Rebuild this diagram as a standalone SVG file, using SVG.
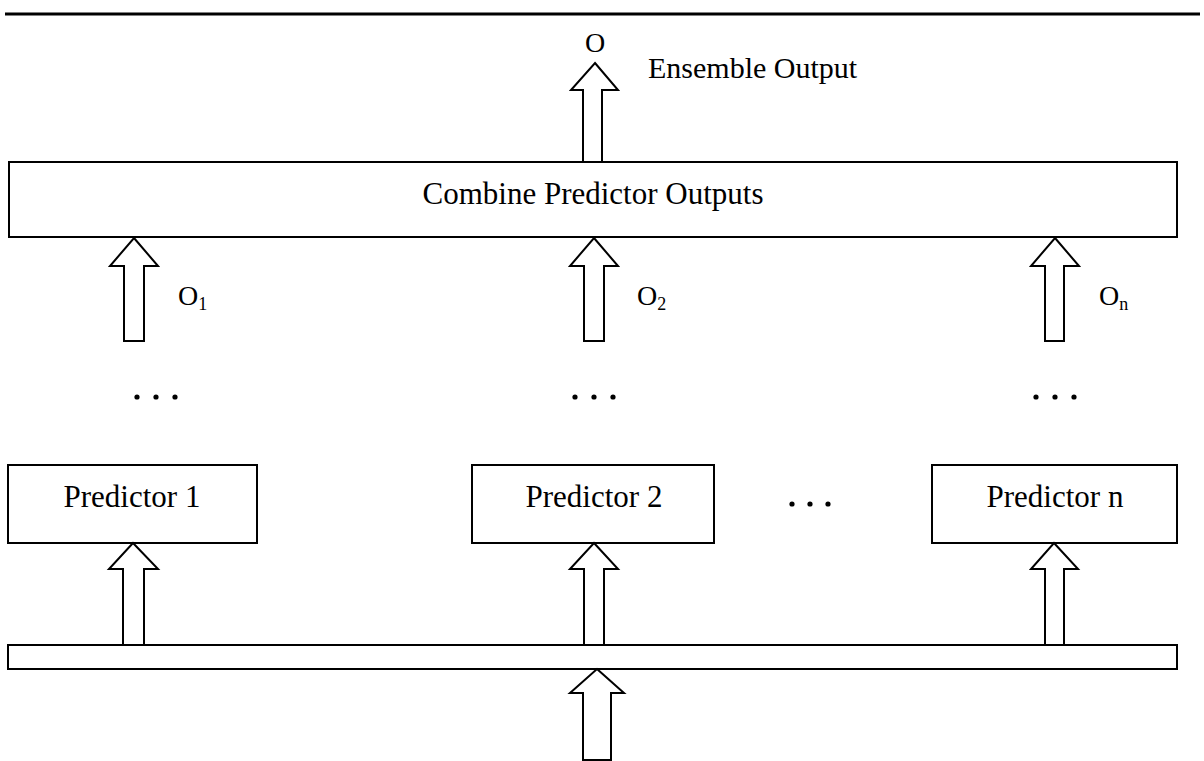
<svg xmlns="http://www.w3.org/2000/svg" width="1204" height="761" viewBox="0 0 1204 761">
<style>
.box{fill:#fff;stroke:#000;stroke-width:2}
.arr{fill:#fff;stroke:#000;stroke-width:2;stroke-linejoin:miter}
.t{font-family:"Liberation Serif","Times New Roman",serif;font-size:31px;fill:#000}
.lbl{font-family:"Liberation Serif","Times New Roman",serif;font-size:28px;fill:#000}
.sub{font-size:18px}
.dot{fill:#000}
</style>
<rect width="1204" height="761" fill="#fff"/>
<line x1="5" y1="14" x2="1200" y2="14" stroke="#000" stroke-width="3"/>

<g id="ensemble-output">
<text class="lbl" x="595" y="52" text-anchor="middle">O</text>
<text class="lbl" x="648" y="78" style="font-size:30px">Ensemble Output</text>
</g>

<g id="combine">
<rect class="box" x="9" y="162" width="1168" height="75"/>
<text class="t" x="593" y="204" text-anchor="middle">Combine Predictor Outputs</text>
</g>

<g id="predictor1">
<rect class="box" x="8" y="465" width="249" height="78"/>
<text class="t" x="132" y="507" text-anchor="middle">Predictor 1</text>
</g>
<g id="predictor2">
<rect class="box" x="472" y="465" width="242" height="78"/>
<text class="t" x="594" y="507" text-anchor="middle">Predictor 2</text>
</g>
<g id="predictorn">
<rect class="box" x="932" y="465" width="245" height="78"/>
<text class="t" x="1055" y="507" text-anchor="middle">Predictor n</text>
</g>

<g id="input-bar">
<rect class="box" x="8" y="645" width="1169" height="24"/>
</g>

<g id="labels">
<text class="lbl" x="178" y="305">O<tspan class="sub" dy="5">1</tspan></text>
<text class="lbl" x="637" y="305">O<tspan class="sub" dy="5">2</tspan></text>
<text class="lbl" x="1099" y="305">O<tspan class="sub" dy="5">n</tspan></text>
</g>

<g id="ellipses">
<circle class="dot" cx="137" cy="397" r="2.6"/><circle class="dot" cx="156" cy="397" r="2.6"/><circle class="dot" cx="175" cy="397" r="2.6"/>
<circle class="dot" cx="575" cy="397" r="2.6"/><circle class="dot" cx="594" cy="397" r="2.6"/><circle class="dot" cx="613" cy="397" r="2.6"/>
<circle class="dot" cx="1036" cy="397" r="2.6"/><circle class="dot" cx="1055" cy="397" r="2.6"/><circle class="dot" cx="1074" cy="397" r="2.6"/>
<circle class="dot" cx="792" cy="504" r="2.6"/><circle class="dot" cx="810" cy="504" r="2.6"/><circle class="dot" cx="828" cy="504" r="2.6"/>
</g>

<g id="connectors">
<path class="arr" d="M595,63 L618,90 L602,90 L602,162 L583,162 L583,90 L571,90 Z"/>
<path class="arr" d="M134,238 L158,266 L144,266 L144,341 L124,341 L124,266 L110,266 Z"/>
<path class="arr" d="M594,238 L618,266 L604,266 L604,341 L584,341 L584,266 L570,266 Z"/>
<path class="arr" d="M1055,238 L1079,266 L1064,266 L1064,341 L1045,341 L1045,266 L1031,266 Z"/>
<path class="arr" d="M133,543 L158,569 L144,569 L144,645 L123,645 L123,569 L109,569 Z"/>
<path class="arr" d="M594,543 L618,569 L604,569 L604,645 L584,645 L584,569 L570,569 Z"/>
<path class="arr" d="M1054,543 L1078,569 L1064,569 L1064,645 L1045,645 L1045,569 L1031,569 Z"/>
<path class="arr" d="M597,669 L624,693 L611,693 L611,760 L583,760 L583,693 L570,693 Z"/>
</g>
</svg>
